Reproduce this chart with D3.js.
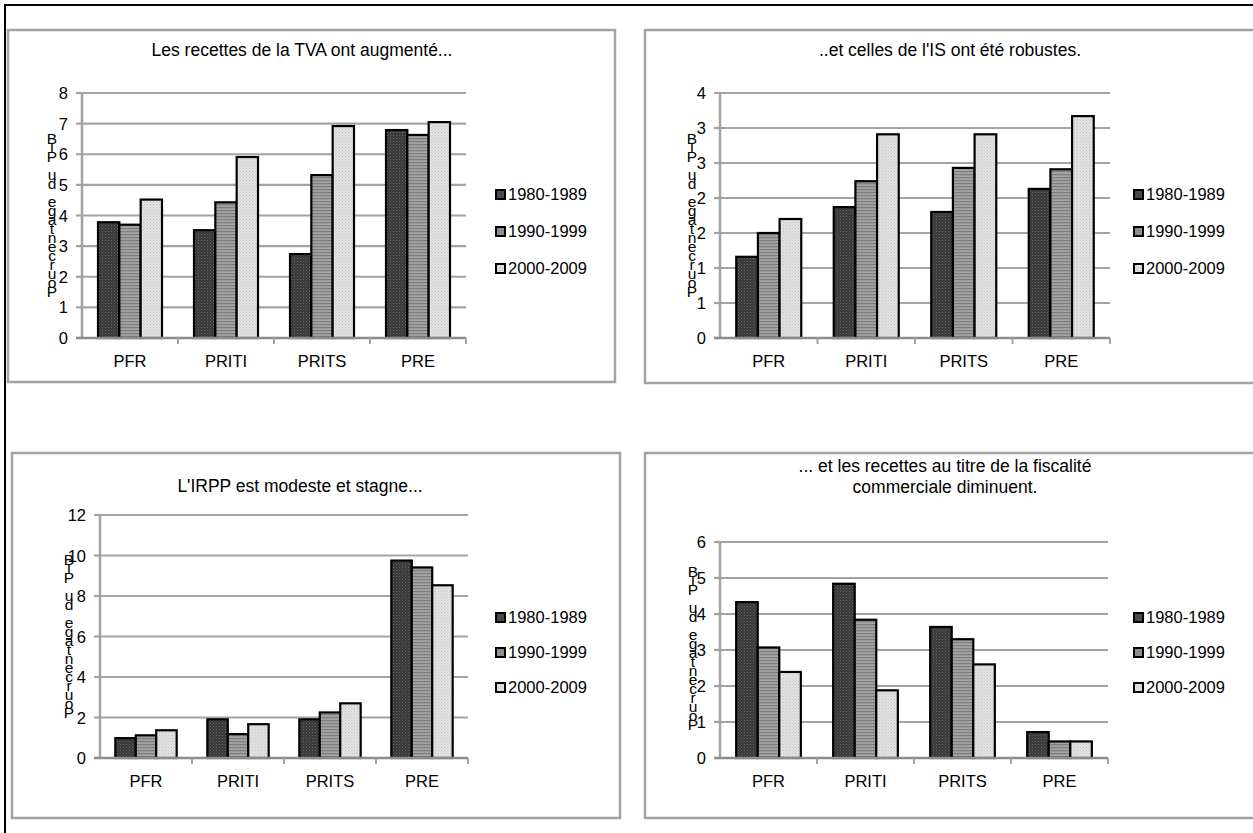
<!DOCTYPE html>
<html>
<head>
<meta charset="utf-8">
<script src="https://cdn.jsdelivr.net/npm/d3@7"></script>
<style>
  html, body { margin: 0; padding: 0; background: #fff; }
  svg { display: block; font-family: "Liberation Sans", Arial, sans-serif; }
</style>
</head>
<body>
<svg id="fig" width="1253" height="833"></svg>
<script>
// Regional groups and periods shared by the four panels
const categories = ["PFR", "PRITI", "PRITS", "PRE"];
const periods = ["1980-1989", "1990-1999", "2000-2009"];
const axisTitle = "Pourcentage du PIB";

// TVA revenue (% of GDP), one array per period, in category order
const tva1980 = [3.78, 3.52, 2.74, 6.79];
const tva1990 = [3.70, 4.43, 5.32, 6.63];
const tva2000 = [4.52, 5.91, 6.92, 7.05];
const tvaTicks = [0, 1, 2, 3, 4, 5, 6, 7, 8];
const tvaTickLabels = ["0", "1", "2", "3", "4", "5", "6", "7", "8"];

// IS revenue (% of GDP)
const is1980 = [1.16, 1.87, 1.80, 2.13];
const is1990 = [1.50, 2.24, 2.43, 2.41];
const is2000 = [1.70, 2.91, 2.91, 3.17];
const isTicks = [0, 0.5, 1, 1.5, 2, 2.5, 3, 3.5];
const isTickLabels = ["0", "1", "1", "2", "2", "3", "3", "4"];

// IRPP revenue (% of GDP)
const irpp1980 = [0.98, 1.91, 1.91, 9.75];
const irpp1990 = [1.12, 1.18, 2.25, 9.41];
const irpp2000 = [1.37, 1.67, 2.70, 8.53];
const irppTicks = [0, 2, 4, 6, 8, 10, 12];
const irppTickLabels = ["0", "2", "4", "6", "8", "10", "12"];

// Trade taxation revenue (% of GDP)
const com1980 = [4.33, 4.84, 3.64, 0.72];
const com1990 = [3.07, 3.84, 3.30, 0.46];
const com2000 = [2.39, 1.88, 2.60, 0.46];
const comTicks = [0, 1, 2, 3, 4, 5, 6];
const comTickLabels = ["0", "1", "2", "3", "4", "5", "6"];

const svg = d3.select("#fig");
const defs = svg.append("defs");

// Fill textures for the three periods
function makePatterns() {
  const p1 = defs.append("pattern").attr("id", "fillDark")
    .attr("patternUnits", "userSpaceOnUse").attr("width", 3).attr("height", 3);
  p1.append("rect").attr("width", 3).attr("height", 3).attr("fill", "#383838");
  p1.append("rect").attr("x", 0).attr("y", 0).attr("width", 1).attr("height", 1).attr("fill", "#666");
  p1.append("rect").attr("x", 1.5).attr("y", 1.5).attr("width", 1).attr("height", 1).attr("fill", "#555");

  const p2 = defs.append("pattern").attr("id", "fillMid")
    .attr("patternUnits", "userSpaceOnUse").attr("width", 4).attr("height", 3);
  p2.append("rect").attr("width", 4).attr("height", 3).attr("fill", "#a3a3a3");
  p2.append("rect").attr("y", 0).attr("width", 4).attr("height", 1.2).attr("fill", "#7e7e7e");

  const p3 = defs.append("pattern").attr("id", "fillLight")
    .attr("patternUnits", "userSpaceOnUse").attr("width", 3).attr("height", 3);
  p3.append("rect").attr("width", 3).attr("height", 3).attr("fill", "#e2e2e2");
  p3.append("rect").attr("x", 0).attr("y", 0).attr("width", 1).attr("height", 1).attr("fill", "#c4c4c4");
  p3.append("rect").attr("x", 1.5).attr("y", 1.5).attr("width", 1).attr("height", 1).attr("fill", "#cfcfcf");
}
makePatterns();
const fills = ["url(#fillDark)", "url(#fillMid)", "url(#fillLight)"];
const legendFills = ["#4a4a4a", "#8f8f8f", "#dcdcdc"];

// Outer frame (only its top and left edges fall inside the page)
svg.append("rect").attr("x", 5).attr("y", 5).attr("width", 1300).attr("height", 900)
  .attr("fill", "none").attr("stroke", "#000").attr("stroke-width", 2);

const GRID = "#a3a3a3";
const FS = 16.5;

function drawPanel(cfg) {
  const g = svg.append("g");

  // panel frame
  g.append("rect").attr("x", cfg.box[0]).attr("y", cfg.box[1])
    .attr("width", cfg.box[2]).attr("height", cfg.box[3])
    .attr("fill", "#fff").attr("stroke", GRID).attr("stroke-width", 2.5);

  // title
  cfg.title.forEach((line, i) => {
    g.append("text").attr("x", cfg.titleX).attr("y", cfg.titleY + i * 21)
      .attr("text-anchor", "middle").attr("font-size", 17.5).attr("fill", "#000")
      .text(line);
  });

  const x = d3.scaleBand().domain(categories).range([cfg.left, cfg.right]).padding(0);
  const y = d3.scaleLinear().domain(cfg.domain).range([cfg.bottom, cfg.top]);
  const bw = x.bandwidth();
  const groupW = bw * 3 / 4.5;
  const xs = d3.scaleBand().domain(periods)
    .range([(bw - groupW) / 2, (bw + groupW) / 2]).padding(0);

  // horizontal gridlines and value ticks
  cfg.ticks.forEach((t, i) => {
    const yy = y(t);
    if (i > 0) {
      g.append("line").attr("x1", cfg.left).attr("x2", cfg.right)
        .attr("y1", yy).attr("y2", yy).attr("stroke", GRID).attr("stroke-width", 2.2);
    }
    g.append("line").attr("x1", cfg.left - 6).attr("x2", cfg.left)
      .attr("y1", yy).attr("y2", yy).attr("stroke", GRID).attr("stroke-width", 2.2);
    g.append("text").attr("x", cfg.left - 14).attr("y", yy + 6)
      .attr("text-anchor", "end").attr("font-size", FS).attr("fill", "#000")
      .text(cfg.tickLabels[i]);
  });

  // value axis
  g.append("line").attr("x1", cfg.left).attr("x2", cfg.left)
    .attr("y1", y(cfg.domain[1])).attr("y2", cfg.bottom + 1)
    .attr("stroke", GRID).attr("stroke-width", 2.5);

  // bars
  cfg.series.forEach((vals, si) => {
    g.selectAll(null).data(categories).enter().append("rect")
      .attr("x", c => x(c) + xs(periods[si]))
      .attr("y", (c, ci) => y(vals[ci]))
      .attr("width", xs.bandwidth())
      .attr("height", (c, ci) => cfg.bottom - y(vals[ci]))
      .attr("fill", fills[si])
      .attr("stroke", "#000").attr("stroke-width", 2.2);
  });

  // category axis with ticks at band boundaries
  g.append("line").attr("x1", cfg.left - 6).attr("x2", cfg.right)
    .attr("y1", cfg.bottom).attr("y2", cfg.bottom)
    .attr("stroke", "#8c8c8c").attr("stroke-width", 2.5);
  categories.forEach(c => {
    const xr = x(c) + bw;
    g.append("line").attr("x1", xr).attr("x2", xr)
      .attr("y1", cfg.bottom).attr("y2", cfg.bottom + 6)
      .attr("stroke", GRID).attr("stroke-width", 2);
    g.append("text").attr("x", x(c) + bw / 2).attr("y", cfg.bottom + 29)
      .attr("text-anchor", "middle").attr("font-size", FS).attr("fill", "#000")
      .text(c);
  });

  // stacked axis title characters, reading upward
  const chars = Array.from(axisTitle);
  chars.forEach((ch, i) => {
    g.append("text").attr("x", cfg.labelX).attr("y", cfg.labelBottom - i * cfg.labelStep)
      .attr("text-anchor", "middle").attr("font-size", 15.5).attr("fill", "#000")
      .text(ch);
  });

  // legend
  periods.forEach((p, i) => {
    const ly = cfg.legendY[i];
    g.append("rect").attr("x", cfg.legendX).attr("y", ly - 10)
      .attr("width", 9).attr("height", 9)
      .attr("fill", legendFills[i]).attr("stroke", "#000").attr("stroke-width", 2);
    g.append("text").attr("x", cfg.legendX + 12).attr("y", ly)
      .attr("font-size", FS).attr("fill", "#000").text(p);
  });
}

drawPanel({
  box: [8, 30, 607, 352],
  title: ["Les recettes de la TVA ont augmenté..."],
  titleX: 302, titleY: 56,
  left: 82, right: 466, top: 93, bottom: 338,
  domain: [0, 8], ticks: tvaTicks, tickLabels: tvaTickLabels,
  series: [tva1980, tva1990, tva2000],
  labelX: 52, labelBottom: 297, labelStep: 9,
  legendX: 496, legendY: [200, 237, 274]
});

drawPanel({
  box: [645, 30, 640, 353],
  title: ["..et celles de l'IS ont été robustes."],
  titleX: 950, titleY: 56,
  left: 720, right: 1110, top: 93, bottom: 338,
  domain: [0, 3.5], ticks: isTicks, tickLabels: isTickLabels,
  series: [is1980, is1990, is2000],
  labelX: 692, labelBottom: 297, labelStep: 9,
  legendX: 1134, legendY: [200, 237, 274]
});

drawPanel({
  box: [12, 453, 608, 365],
  title: ["L'IRPP est modeste et stagne..."],
  titleX: 300, titleY: 492,
  left: 100, right: 468, top: 515, bottom: 758,
  domain: [0, 12], ticks: irppTicks, tickLabels: irppTickLabels,
  series: [irpp1980, irpp1990, irpp2000],
  labelX: 69, labelBottom: 718, labelStep: 9,
  legendX: 496, legendY: [623, 658, 693]
});

drawPanel({
  box: [645, 453, 640, 365],
  title: ["... et les recettes au titre de la fiscalité", "commerciale diminuent."],
  titleX: 945, titleY: 472,
  left: 720, right: 1108, top: 542, bottom: 758,
  domain: [0, 6], ticks: comTicks, tickLabels: comTickLabels,
  series: [com1980, com1990, com2000],
  labelX: 693, labelBottom: 730, labelStep: 9,
  legendX: 1134, legendY: [623, 658, 693]
});
</script>
</body>
</html>
